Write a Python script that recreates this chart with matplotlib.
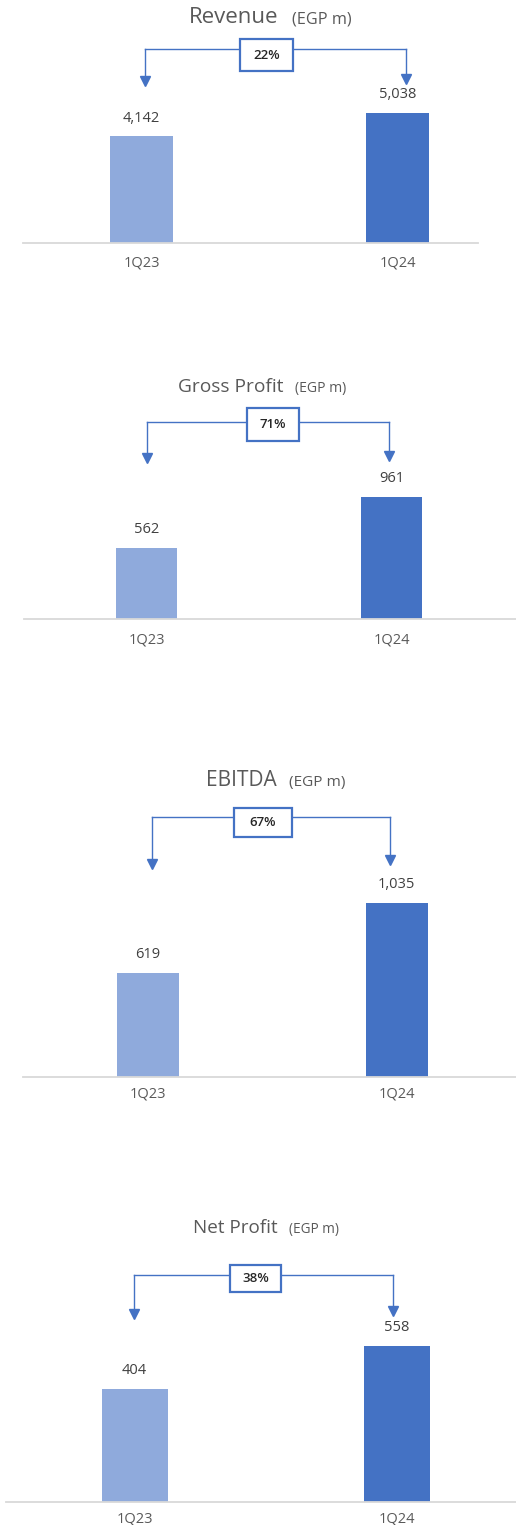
import matplotlib
matplotlib.use("Agg")
import matplotlib.pyplot as plt
from matplotlib.patches import Rectangle

plt.rcParams['font.family'] = ['Open Sans', 'DejaVu Sans']

# data
titles = ['Revenue', 'Gross Profit', 'EBITDA', 'Net Profit']
unit = '(EGP m)'
quarters = ['1Q23', '1Q24']
revenue = [4142, 5038]
gross_profit = [562, 961]
ebitda = [619, 1035]
net_profit = [404, 558]
growth = ['22%', '71%', '67%', '38%']
series = [revenue, gross_profit, ebitda, net_profit]

light = '#8FAADC'
dark = '#4472C4'
line_col = '#4472C4'
W, H = 516, 1525

# panel layout in pixels (from the picture)
layouts = [
    dict(base=243, xl=23, xr=478, c=(141.5, 397.5), bw=63, top=113,
         tb=23, t_end=278, u_start=292, tsize=16, usize=11.7,
         by=49, box=(240, 39, 293, 71), arrows=((145, 86), (406, 84)), pad=9),
    dict(base=619, xl=24, xr=516, c=(146.5, 391.5), bw=61, top=497,
         tb=392, t_end=283, u_start=295, tsize=13.8, usize=10.1,
         by=422, box=(247, 408, 299, 441), arrows=((147, 463), (389, 461)), pad=10),
    dict(base=1077, xl=23, xr=516, c=(147.5, 396.5), bw=62, top=903,
         tb=786, t_end=277, u_start=289, tsize=15, usize=11.1,
         by=817, box=(234, 808, 292, 837), arrows=((152, 869), (390, 865)), pad=7),
    dict(base=1502, xl=6, xr=516, c=(134.5, 397), bw=66, top=1346,
         tb=1233, t_end=278, u_start=289, tsize=13.6, usize=9.8,
         by=1275, box=(230, 1265, 281, 1292), arrows=((134, 1319), (393, 1316)), pad=7),
]

fig = plt.figure(figsize=(W / 100, H / 100), dpi=100)

for i, L in enumerate(layouts):
    vals = series[i]
    base = L['base']
    c0, c1 = L['c']
    s = c1 - c0
    ax_top = L['tb'] - 35
    k = max(vals) / (base - L['top'])  # value units per pixel

    ax = fig.add_axes([L['xl'] / W, 1 - base / H, (L['xr'] - L['xl']) / W, (base - ax_top) / H])
    ax.set_xlim((L['xl'] - c0) / s, (L['xr'] - c0) / s)
    ax.set_ylim(0, (base - ax_top) * k)
    ax.bar([0, 1], vals, width=L['bw'] / s, color=[light, dark], zorder=2)
    for j, v in enumerate(vals):
        ax.annotate(f'{v:,}', (j, v), xytext=(0, 13), textcoords='offset points',
                    ha='center', va='center', fontsize=10.5, color='#404040')
    ax.set_xticks([0, 1], quarters)
    ax.tick_params(axis='x', length=0, pad=L['pad'], labelsize=10.5, labelcolor='#595959')
    ax.set_yticks([])
    for sp in ['top', 'left', 'right']:
        ax.spines[sp].set_visible(False)
    ax.spines['bottom'].set_color('#D9D9D9')
    ax.spines['bottom'].set_linewidth(1.3)

    def d(px, py):
        return (px - c0) / s, (base - py) * k

    # bracket with the two arrows
    (xa, ta), (xb, tb_) = L['arrows']
    x_l, y_b = d(xa, L['by'])
    x_r, _ = d(xb, L['by'])
    ax.plot([x_l, x_r], [y_b, y_b], color=line_col, lw=1.0, clip_on=False, zorder=3)
    for px, tip in L['arrows']:
        x, yt = d(px, tip - 5)
        ax.plot([x, x], [y_b, yt], color=line_col, lw=1.0, clip_on=False, zorder=3)
        ax.plot([x], [yt], marker='v', markersize=7.5, color=line_col, clip_on=False, zorder=3)

    bx0, by0, bx1, by1 = L['box']
    rx0, ry1 = d(bx0, by0)
    rx1, ry0 = d(bx1, by1)
    ax.add_patch(Rectangle((rx0, ry0), rx1 - rx0, ry1 - ry0, facecolor='white',
                           edgecolor=line_col, lw=1.6, clip_on=False, zorder=4))
    ax.text((rx0 + rx1) / 2, (ry0 + ry1) / 2, growth[i], ha='center', va='center',
            fontsize=9.5, fontweight='semibold', color='#262626', zorder=5)

    # title
    fig.text(L['t_end'] / W, 1 - L['tb'] / H, titles[i], ha='right', va='baseline',
             fontsize=L['tsize'], color='#595959')
    fig.text(L['u_start'] / W, 1 - L['tb'] / H, unit, ha='left', va='baseline',
             fontsize=L['usize'], color='#595959')

fig.savefig('out.png', dpi=100)
